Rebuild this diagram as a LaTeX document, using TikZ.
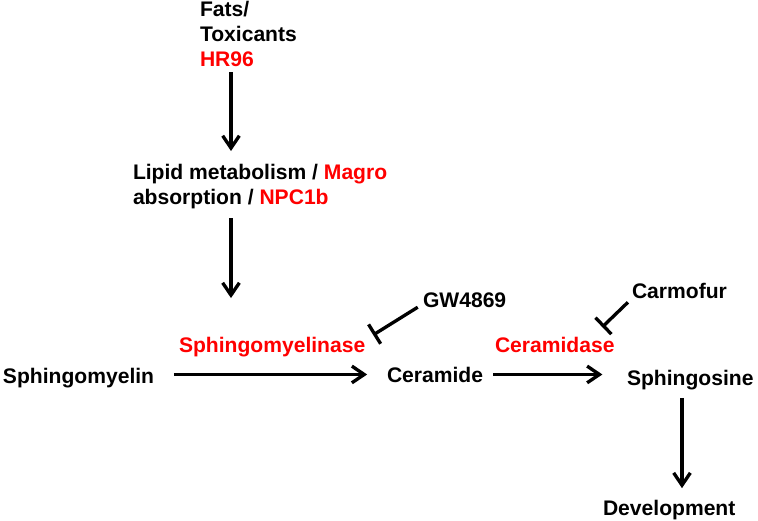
\documentclass[tikz,border=0pt]{standalone}
\usepackage{fontspec}
\setmainfont{Liberation Sans}
\usepackage{xcolor}
\usepackage{tikz}
\usetikzlibrary{arrows.meta,positioning}

\definecolor{genered}{RGB}{255,0,0}

\begin{document}
\begin{tikzpicture}[
    x=0.02cm,
    y=-0.02cm,
    label/.style={
        inner sep=0pt,
        outer sep=0pt,
        align=left,
        font=\fontsize{12}{14.2}\selectfont\bfseries
    },
    gene/.style={
        label,
        text=genered
    },
    arrow/.style={
        -{Straight Barb[length=7pt,width=9.5pt]},
        line width=1.9pt
    },
    inhibit/.style={
        -{Bar[width=13pt]},
        line width=1.9pt
    }
]

\useasboundingbox (0,0) rectangle (758,521);

% ==================================================
% Upstream signals
% ==================================================

\node[label, anchor=north west] (fats) at (200,1)
{Fats/\\Toxicants\\\textcolor{genered}{HR96}};

\node[label, anchor=north west] (lipid) at (133,164)
{Lipid metabolism / \textcolor{genered}{Magro}\\
 absorption / \textcolor{genered}{NPC1b}};

% ==================================================
% Enzymes and inhibitors
% ==================================================

\node[gene, anchor=base west] (smase) at (179,352) {Sphingomyelinase};
\node[label, anchor=base west] (gw) at (423,307) {GW4869};

\node[gene, anchor=base west] (cdase) at (495,352) {Ceramidase};
\node[label, anchor=base west] (carmo) at (632,298) {Carmofur};

% ==================================================
% Sphingolipid pathway
% ==================================================

\node[label, anchor=base west] (sm) at (3,383) {Sphingomyelin};
\node[label, anchor=base west] (cer) at (387,382) {Ceramide};
\node[label, anchor=base west] (sph) at (627,385) {Sphingosine};
\node[label, anchor=base west] (dev) at (603,515) {Development};

% ==================================================
% Arrows
% ==================================================

\coordinate (a1) at (231,0);
\coordinate (a3) at (682,0);

\draw[arrow, shorten <=3.4pt, shorten >=7.4pt]
    (fats.south -| a1) -- (lipid.north -| a1);
\draw[arrow, shorten <=5.4pt, shorten >=22pt]
    (lipid.south -| a1) -- (smase.north -| a1);

\draw[arrow, shorten <=11.3pt, shorten >=11.3pt]
    (sm.east |- cer.west) -- (cer.west);
\draw[arrow, shorten <=5.7pt, shorten >=14pt]
    (cer.east) -- (cer.east -| sph.west);

\draw[arrow, shorten <=4.8pt, shorten >=6.6pt]
    (sph.south -| a3) -- (dev.north -| a3);

% Inhibition
\draw[inhibit] ([xshift=-3pt]gw.south west)
    -- ([xshift=4.5pt,yshift=1pt]smase.north east);
\draw[inhibit] ([xshift=-2.3pt,yshift=-2.3pt]carmo.south west)
    -- ([xshift=-7pt,yshift=5.5pt]cdase.north east);

\end{tikzpicture}
\end{document}
